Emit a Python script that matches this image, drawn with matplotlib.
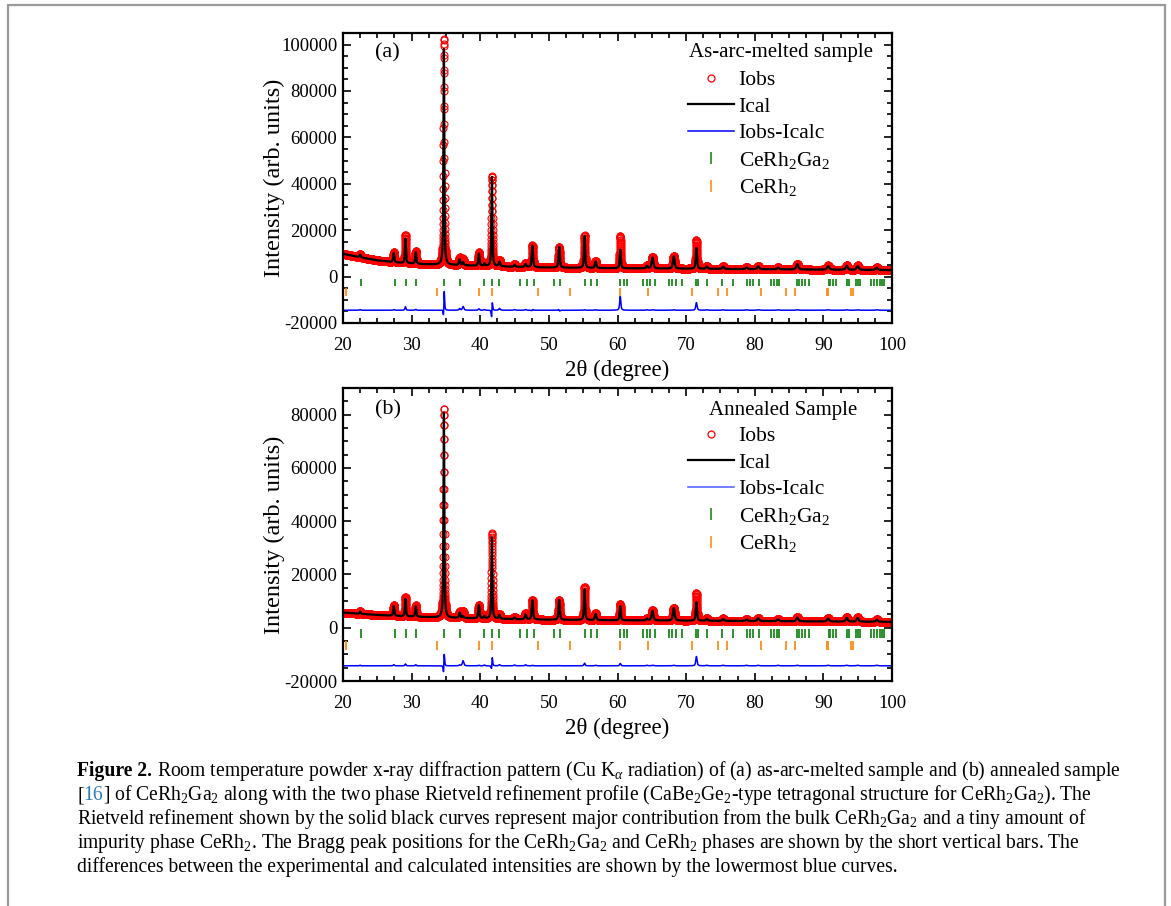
import numpy as np
import matplotlib
matplotlib.use('Agg')
import matplotlib.pyplot as plt
from matplotlib.lines import Line2D
from matplotlib.patches import Rectangle
from matplotlib.ticker import MultipleLocator

plt.rcParams['font.family'] = 'Liberation Serif'
plt.rcParams['mathtext.fontset'] = 'custom'
plt.rcParams['mathtext.rm'] = 'Liberation Serif'
plt.rcParams['mathtext.it'] = 'Liberation Serif:italic'
plt.rcParams['mathtext.bf'] = 'Liberation Serif:bold'
plt.rcParams['axes.unicode_minus'] = False

# background level (2theta, counts)
bg_x = [20, 22, 25, 28, 32, 36, 40, 45, 50, 60, 70, 80, 90, 100]
bg_a = [9800, 8600, 7000, 6000, 5300, 5000, 4600, 4200, 3900, 3600, 3400, 3200, 3000, 2800]
bg_b = [5700, 5300, 4800, 4400, 4000, 3700, 3500, 3200, 3000, 2800, 2650, 2500, 2350, 2200]

# reflections: position, calculated height, observed height, obs shift, fwhm
pk_pos = [22.5, 27.4, 29.1, 30.6, 34.7, 37.0, 37.5, 39.8, 40.6, 41.7, 42.8, 45.0,
          46.6, 47.6, 51.5, 55.2, 56.8, 60.4, 64.3, 65.1, 68.2, 71.5, 73.0, 75.4,
          78.8, 80.5, 83.4, 86.2, 90.7, 93.4, 95.0, 97.8]
fwhm = [0.20, 0.20, 0.18, 0.20, 0.16, 0.22, 0.25, 0.22, 0.22, 0.17, 0.25, 0.25,
        0.25, 0.22, 0.22, 0.20, 0.25, 0.20, 0.28, 0.30, 0.30, 0.22, 0.30, 0.30,
        0.32, 0.32, 0.32, 0.35, 0.35, 0.35, 0.35, 0.38]

cal_a = [1200, 4000, 10500, 5000, 93000, 2500, 1200, 5200, 1000, 38500, 2000, 800,
         1300, 9300, 9000, 13800, 2800, 8000, 1000, 4800, 5300, 9000, 1000, 1000,
         700, 1300, 700, 2300, 1600, 1700, 1700, 900]
obs_a = [1500, 4300, 12000, 5400, 97500, 3200, 2800, 5800, 1300, 38800, 2800, 1100,
         1600, 9400, 9000, 14000, 3000, 14000, 1200, 5000, 5500, 12300, 1200, 1200,
         900, 1500, 900, 2500, 1800, 1900, 1900, 1100]
sft_a = [0, 0, 0, 0, 0.006, 0, 0, 0, 0, 0.010, 0, 0,
         0, 0.004, -0.006, 0, 0, 0, 0, 0, 0, 0, 0, 0,
         0, 0, 0, 0, 0, 0, 0, 0]

cal_b = [900, 3600, 6500, 3900, 77000, 2000, 700, 4900, 800, 30500, 1400, 600,
         1800, 7200, 7400, 11500, 2300, 5300, 600, 3600, 4700, 7000, 700, 700,
         600, 1100, 700, 1400, 1100, 1400, 1400, 700]
obs_b = [1100, 4000, 7200, 4300, 78500, 2300, 2600, 5100, 1100, 32000, 1800, 900,
         2200, 7400, 7500, 12500, 2500, 6200, 800, 3800, 4900, 10500, 900, 900,
         800, 1300, 900, 1600, 1300, 1600, 1600, 900]
sft_b = [0, 0, 0, 0, 0.005, 0, 0, 0, 0, 0.008, 0, 0,
         0, 0, 0, 0, 0, 0, 0, 0, 0, 0, 0, 0,
         0, 0, 0, 0, 0, 0, 0, 0]

# Bragg peak positions
bragg_main = [22.6, 27.6, 29.2, 30.6, 34.7, 37.0, 40.6, 41.7, 42.8, 45.8, 46.8, 47.9,
              50.8, 51.6, 55.2, 56.1, 57.0, 60.4, 60.9, 61.4, 63.7, 64.3, 64.8, 65.4,
              67.5, 68.0, 68.5, 69.4, 71.4, 71.7, 73.0, 75.3, 76.8, 78.8, 79.3, 79.8,
              80.6, 82.4, 82.8, 83.2, 83.6, 86.1, 86.5, 86.9, 87.3, 87.9, 90.8, 91.0,
              91.4, 91.8, 93.4, 93.7, 94.7, 95.0, 95.3, 96.9, 97.4, 97.8, 98.2, 98.5,
              98.9]
bragg_imp = [20.5, 33.7, 39.8, 41.7, 48.4, 53.1, 60.3, 64.4, 70.9, 74.7, 75.9, 80.9,
             84.5, 85.8, 90.5, 90.7, 94.0, 94.3, 100.0]

tth = np.arange(20, 100.001, 0.01)

W, H = 1171, 906
fig = plt.figure(figsize=(W / 100, H / 100), dpi=100)


def profile(pos, height, shift, width, base):
    y = np.interp(tth, bg_x, base)
    for p, h, s, w in zip(pos, height, shift, width):
        d = (tth - p - s) / (w / 2)
        lor = 1 / (1 + d ** 2)
        gau = np.exp(-np.log(2) * d ** 2)
        y = y + h * (0.6 * lor + 0.4 * gau)
    return y


def draw_panel(ax, cal, obs, sft, base, off, bars, ylim, tag, tag_y,
               title, title_xy, leg_xy, diff_leg_color):
    ical = profile(pk_pos, cal, [0] * len(pk_pos), fwhm, base)
    iobs = profile(pk_pos, obs, sft, fwhm, base)
    ax.plot(tth, iobs, 'o', mfc='none', mec='red', ms=5, mew=0.8)
    ax.plot(tth, ical, '-', color='black', lw=1.6)
    ax.plot(tth, iobs - ical + off, '-', color='blue', lw=1.1)
    ax.vlines(bragg_main, bars[0], bars[1], color='#1a8a1a', lw=1.3)
    ax.vlines(bragg_imp, bars[2], bars[3], color='#ff8c1a', lw=1.3)

    ax.set_xlim(20, 100)
    ax.set_ylim(*ylim)
    ax.xaxis.set_major_locator(MultipleLocator(10))
    ax.xaxis.set_minor_locator(MultipleLocator(2.5))
    ax.yaxis.set_major_locator(MultipleLocator(20000))
    ax.yaxis.set_minor_locator(MultipleLocator(5000))
    ax.tick_params(which='both', direction='in', top=True, right=True,
                   labelsize=13.5, width=1.2)
    ax.tick_params(which='major', length=6)
    ax.tick_params(which='minor', length=3.5)
    ax.tick_params(axis='x', pad=10)
    ax.tick_params(axis='y', pad=4)
    for sp in ax.spines.values():
        sp.set_linewidth(1.6)
    ax.set_xlabel('2\u03b8 (degree)', fontsize=16.5, labelpad=4)
    ax.set_ylabel('Intensity (arb. units)', fontsize=17.5)
    ax.yaxis.set_label_coords((285 - 343) / 549, 0.5)
    ax.text((375 - 343) / 549, tag_y, tag, transform=ax.transAxes, fontsize=16,
            va='center')

    fig.text(title_xy[0] / W, 1 - title_xy[1] / H, title, fontsize=15,
             va='center', ha='left')
    handles = [
        Line2D([], [], marker='o', ls='none', mfc='none', mec='red', ms=5, mew=0.9),
        Line2D([], [], color='black', lw=1.6),
        Line2D([], [], color=diff_leg_color, lw=1.1),
        Line2D([], [], marker='|', ls='none', color='#1a8a1a', ms=9, mew=1.2),
        Line2D([], [], marker='|', ls='none', color='#ff8c1a', ms=9, mew=1.2),
    ]
    labels = ['Iobs', 'Ical', 'Iobs-Icalc', 'CeRh$_2$Ga$_2$', 'CeRh$_2$']
    ax.legend(handles, labels, loc='upper left',
              bbox_to_anchor=(leg_xy[0] / W, 1 - leg_xy[1] / H),
              bbox_transform=fig.transFigure, frameon=False, fontsize=15.5,
              handlelength=2.15, handletextpad=0.2, labelspacing=0.3,
              borderpad=0, borderaxespad=0)


ax_a = fig.add_axes([343 / W, 1 - 323 / H, 549 / W, 290 / H])
ax_b = fig.add_axes([343 / W, 1 - 681 / H, 549 / W, 293 / H])

draw_panel(ax_a, cal_a, obs_a, sft_a, bg_a, -14500, (-900, -4000, -4800, -8200),
           (-20000, 105000), '(a)', 0.931, 'As-arc-melted sample', (689, 53),
           (688, 70), 'blue')
draw_panel(ax_b, cal_b, obs_b, sft_b, bg_b, -14300, (-600, -4000, -5000, -8500),
           (-20000, 90000), '(b)', 0.925, 'Annealed Sample', (709, 410),
           (688, 426), '#4a5cff')

# page frame
fig.patches.append(Rectangle((8 / W, -0.02), 1157 / W, 1.02 - 5 / H,
                             transform=fig.transFigure, fill=False,
                             edgecolor='#9a9a9a', lw=1.6))

# caption
renderer = fig.canvas.get_renderer()
cap_size = 14.1
link = '#2a7ab8'


def width_of(s, **kw):
    t = fig.text(0, 0, s, fontsize=cap_size, **kw)
    w = t.get_window_extent(renderer=renderer).width
    t.remove()
    return w


space_w = width_of('a a') - width_of('aa')


def caption_line(y_px, pieces):
    x = 77
    for s, kw in pieces:
        if s == ' ':
            x += space_w
            continue
        t = fig.text(x / W, 1 - y_px / H, s, fontsize=cap_size, va='baseline',
                     ha='left', **kw)
        x += t.get_window_extent(renderer=renderer).width


caption_line(776, [('Figure 2.', {'weight': 'bold'}), (' ', {}),
                   ('Room temperature powder x-ray diffraction pattern (Cu K$_\\alpha$ '
                    'radiation) of (a) as-arc-melted sample and (b) annealed sample', {})])
caption_line(800, [('[', {}), ('16', {'color': link}),
                   ('] of CeRh$_2$Ga$_2$ along with the two phase Rietveld refinement '
                    'profile (CaBe$_2$Ge$_2$-type tetragonal structure for CeRh$_2$Ga$_2$). The', {})])
caption_line(824, [('Rietveld refinement shown by the solid black curves represent major '
                    'contribution from the bulk CeRh$_2$Ga$_2$ and a tiny amount of', {})])
caption_line(848, [('impurity phase CeRh$_2$. The Bragg peak positions for the CeRh$_2$Ga$_2$ '
                    'and CeRh$_2$ phases are shown by the short vertical bars. The', {})])
caption_line(872, [('differences between the experimental and calculated intensities '
                    'are shown by the lowermost blue curves.', {})])

fig.savefig('out.png', dpi=100)
